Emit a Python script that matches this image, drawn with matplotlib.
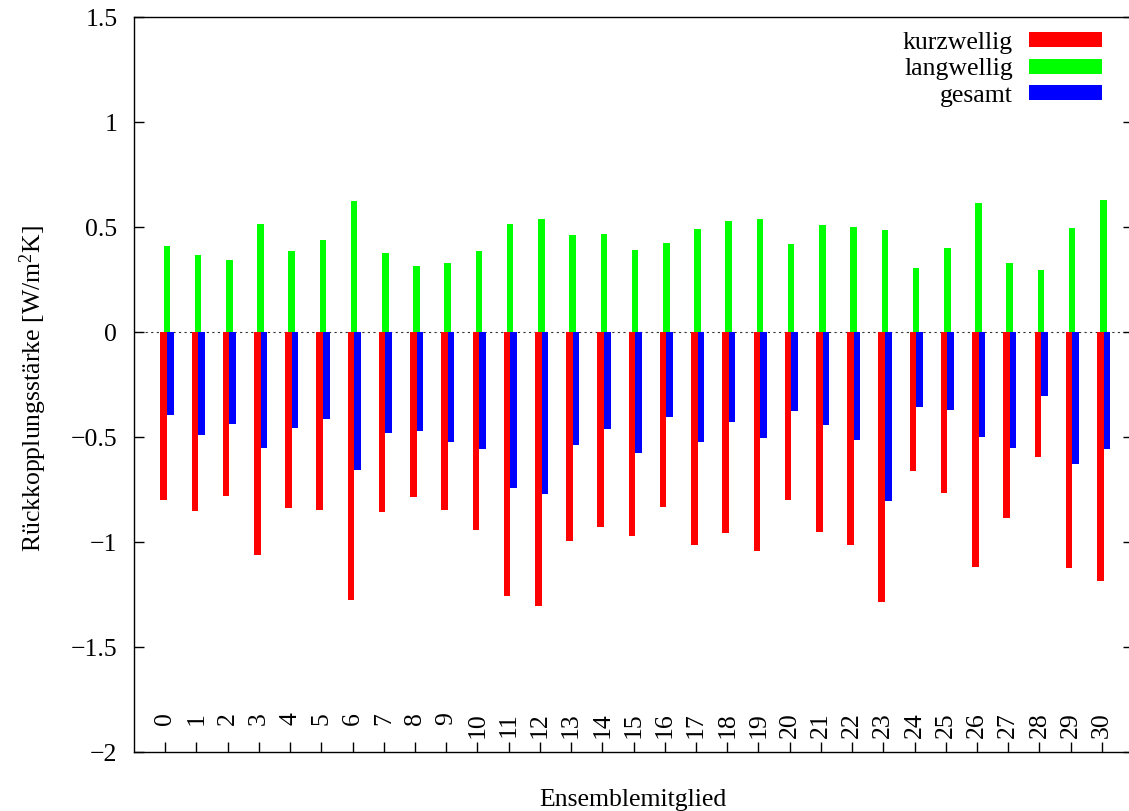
import numpy as np
import matplotlib
matplotlib.use("Agg")
import matplotlib.pyplot as plt
from matplotlib.ticker import FuncFormatter

plt.rcParams['font.family'] = ['Liberation Serif', 'DejaVu Serif']
plt.rcParams['mathtext.fontset'] = 'custom'
plt.rcParams['mathtext.rm'] = 'Liberation Serif'
plt.rcParams['mathtext.it'] = 'Liberation Serif:italic'
plt.rcParams['font.size'] = 18.5

# feedback strength per ensemble member [W/m^2K]
members = list(range(31))
member_labels = [str(m) for m in members]
kurzwellig = [-0.800, -0.851, -0.780, -1.060, -0.837, -0.846, -1.277, -0.857,
              -0.784, -0.849, -0.942, -1.255, -1.306, -0.994, -0.927, -0.969,
              -0.832, -1.016, -0.957, -1.041, -0.798, -0.952, -1.014, -1.287,
              -0.660, -0.768, -1.117, -0.884, -0.597, -1.122, -1.184]
langwellig = [0.409, 0.365, 0.345, 0.513, 0.386, 0.436, 0.622, 0.377,
              0.316, 0.330, 0.387, 0.516, 0.536, 0.462, 0.468, 0.392,
              0.425, 0.492, 0.527, 0.536, 0.420, 0.512, 0.498, 0.484,
              0.306, 0.398, 0.616, 0.330, 0.295, 0.495, 0.630]
gesamt = [-0.393, -0.490, -0.437, -0.552, -0.455, -0.412, -0.655, -0.482,
          -0.471, -0.524, -0.558, -0.743, -0.770, -0.537, -0.460, -0.578,
          -0.406, -0.525, -0.429, -0.505, -0.376, -0.443, -0.516, -0.803,
          -0.356, -0.370, -0.499, -0.554, -0.303, -0.630, -0.556]
yticks = [-2, -1.5, -1, -0.5, 0, 0.5, 1, 1.5]

x = np.array(members)
width = 0.21

fig = plt.figure(figsize=(11.29, 8.11), dpi=100)
ax = fig.add_axes([0.1187, 0.0727, 0.8849, 0.9063])

ax.axhline(0, color='#333333', lw=0.8, linestyle=(0, (2, 3)), zorder=1)
ax.bar(x - 0.05, kurzwellig, width, color='#ff0000', label='kurzwellig', zorder=2)
ax.bar(x + 0.05, langwellig, width, color='#00ff00', label='langwellig', zorder=2)
ax.bar(x + 0.16, gesamt, width, color='#0000ff', label='gesamt', zorder=2)

ax.set_xlim(-1, 31)
ax.set_ylim(-2, 1.5)
ax.set_yticks(yticks)
ax.yaxis.set_major_formatter(FuncFormatter(lambda v, p: ('%g' % v).replace('-', '\u2212')))
ax.set_xticks(members)
ax.set_xticklabels(member_labels, rotation=90)

ax.tick_params(axis='y', direction='in', length=7.2, width=1.0, left=True, right=True, pad=12)
ax.tick_params(axis='x', direction='in', length=7.2, width=1.0, top=False, pad=-28.8)
for s in ax.spines.values():
    s.set_linewidth(1.0)

leg = ax.legend(loc='upper right', bbox_to_anchor=(0.969, 0.98), frameon=False,
                markerfirst=False, handlelength=2.85, handleheight=0.52,
                handletextpad=0.62, labelspacing=0.18, borderpad=0, borderaxespad=0)

fig.text(33 / 1129, 1 - 389 / 811, 'Rückkopplungsstärke [W/m$^{2}$K]',
         rotation=90, ha='center', va='center')
fig.text(633 / 1129, 1 - 806 / 811, 'Ensemblemitglied', ha='center', va='baseline')

fig.savefig('out.png', dpi=100)
